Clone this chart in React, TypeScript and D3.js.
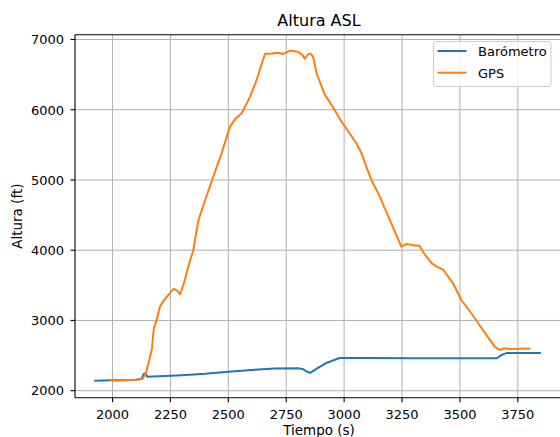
import React from 'react'
import * as d3 from 'd3'

// readings taken off the reference chart
const gpsTime = [1990, 2050, 2100, 2130, 2145, 2160, 2170, 2178, 2190, 2205, 2225, 2250, 2265, 2280, 2292, 2310, 2330, 2349, 2371, 2400, 2435, 2471, 2507, 2530, 2558, 2594, 2622, 2658, 2690, 2716, 2737, 2766, 2802, 2820, 2830, 2845, 2855, 2866, 2881, 2903, 2917, 2940, 2989, 3020, 3053, 3075, 3100, 3118, 3154, 3180, 3204, 3230, 3247, 3269, 3300, 3326, 3340, 3355, 3377, 3398, 3427, 3450, 3470, 3506, 3549, 3599, 3650, 3671, 3693, 3714, 3800]
const gpsAlt = [2150, 2150, 2155, 2165, 2260, 2450, 2600, 2880, 3000, 3200, 3300, 3400, 3450, 3420, 3370, 3550, 3800, 4003, 4430, 4715, 5047, 5380, 5759, 5870, 5949, 6186, 6423, 6794, 6800, 6812, 6794, 6840, 6826, 6780, 6725, 6790, 6800, 6755, 6519, 6328, 6210, 6100, 5830, 5680, 5522, 5380, 5150, 5000, 4762, 4560, 4383, 4180, 4050, 4090, 4070, 4060, 3980, 3908, 3820, 3770, 3725, 3620, 3529, 3291, 3102, 2864, 2627, 2579, 2603, 2594, 2600]

const baroTime = [1925, 2000, 2050, 2100, 2125, 2135, 2142, 2150, 2200, 2300, 2400, 2500, 2600, 2700, 2800, 2820, 2840, 2855, 2880, 2920, 2960, 2980, 3100, 3300, 3500, 3660, 3680, 3700, 3845]
const baroAlt = [2142, 2148, 2150, 2155, 2165, 2240, 2250, 2200, 2205, 2220, 2240, 2270, 2295, 2315, 2320, 2310, 2270, 2255, 2310, 2390, 2440, 2465, 2465, 2462, 2462, 2462, 2510, 2535, 2535]

const xTicks = [2000, 2250, 2500, 2750, 3000, 3250, 3500, 3750]
const yTicks = [2000, 3000, 4000, 5000, 6000, 7000]

const seriesNames = ['Barómetro', 'GPS']
const seriesColors = ['#1f77b4', '#ff7f0e']

const W = 560
const H = 437
const plot = {left: 75, right: 563, top: 34.7, bottom: 397.7}
const font = '"DejaVu Sans", sans-serif'

export default function App() {
	const x = d3.scaleLinear().domain([1838, 3945]).range([plot.left, plot.right])
	const y = d3.scaleLinear().domain([1900, 7068]).range([plot.bottom, plot.top])

	const line = d3.line<[number, number]>()
		.x(d => x(d[0]))
		.y(d => y(d[1]))

	const baro = baroTime.map((t, i) => [t, baroAlt[i]] as [number, number])
	const gps = gpsTime.map((t, i) => [t, gpsAlt[i]] as [number, number])

	const legendX = 433.5
	const legendY = 41.5

	return (
		<div style={{position: 'absolute', left: 0, top: 0}}>
			<svg width={W} height={H} style={{display: 'block', background: '#fff'}}>
				<defs>
					<clipPath id="plotclip">
						<rect x={plot.left} y={plot.top} width={plot.right - plot.left} height={plot.bottom - plot.top} />
					</clipPath>
				</defs>

				{/* grid */}
				<g stroke="#b0b0b0" strokeWidth={1}>
					{xTicks.map(t => (
						<line key={'gx' + t} x1={x(t)} x2={x(t)} y1={plot.top} y2={plot.bottom} />
					))}
					{yTicks.map(t => (
						<line key={'gy' + t} x1={plot.left} x2={plot.right} y1={y(t)} y2={y(t)} />
					))}
				</g>

				{/* series */}
				<g clipPath="url(#plotclip)" fill="none" strokeWidth={2} strokeLinejoin="round" strokeLinecap="square">
					<path d={line(baro) || ''} stroke={seriesColors[0]} />
					<path d={line(gps) || ''} stroke={seriesColors[1]} />
				</g>

				{/* spines */}
				<g stroke="#000" strokeWidth={1.1} fill="none">
					<line x1={plot.left} x2={plot.left} y1={plot.top} y2={plot.bottom} />
					<line x1={plot.left} x2={plot.right} y1={plot.top} y2={plot.top} />
					<line x1={plot.left} x2={plot.right} y1={plot.bottom} y2={plot.bottom} />
					<line x1={plot.right} x2={plot.right} y1={plot.top} y2={plot.bottom} />
				</g>

				{/* x axis */}
				<g fontFamily={font} fontSize={13} fill="#000">
					{xTicks.map(t => (
						<g key={'xt' + t}>
							<line x1={x(t)} x2={x(t)} y1={plot.bottom} y2={plot.bottom + 4.5} stroke="#000" strokeWidth={1.1} />
							<text x={x(t)} y={418.5} textAnchor="middle">{t}</text>
						</g>
					))}
					{yTicks.map(t => (
						<g key={'yt' + t}>
							<line x1={plot.left - 4.5} x2={plot.left} y1={y(t)} y2={y(t)} stroke="#000" strokeWidth={1.1} />
							<text x={plot.left - 11} y={y(t) + 4.8} textAnchor="end">{t}</text>
						</g>
					))}
				</g>

				{/* labels */}
				<text x={(plot.left + plot.right) / 2} y={26} textAnchor="middle" fontFamily={font} fontSize={16}>Altura ASL</text>
				<text x={(plot.left + plot.right) / 2} y={435} textAnchor="middle" fontFamily={font} fontSize={13.5}>Tiempo (s)</text>
				<text transform={`translate(21.5, ${(plot.top + plot.bottom) / 2}) rotate(-90)`} textAnchor="middle" fontFamily={font} fontSize={13.5}>Altura (ft)</text>

				{/* legend */}
				<g>
					<rect x={legendX} y={legendY} width={117.5} height={45} rx={3} fill="#fff" fillOpacity={0.8} stroke="#cccccc" strokeWidth={1} />
					{seriesNames.map((name, i) => (
						<g key={name}>
							<line x1={437.5} x2={466.5} y1={51 + i * 21.7} y2={51 + i * 21.7} stroke={seriesColors[i]} strokeWidth={2} />
							<text x={478} y={51 + i * 21.7 + 4.8} fontFamily={font} fontSize={13}>{name}</text>
						</g>
					))}
				</g>
			</svg>
		</div>
	)
}
